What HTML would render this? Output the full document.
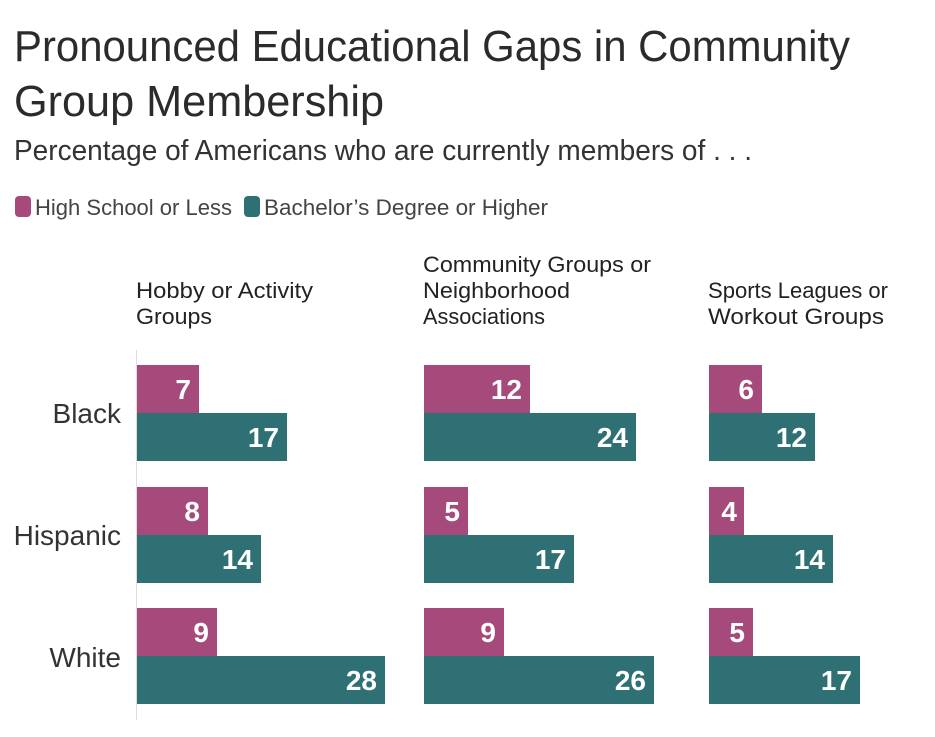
<!DOCTYPE html>
<html><head><meta charset="utf-8"><style>body{margin:0;background:#fff}svg{display:block}</style></head><body>
<svg width="935" height="737" xmlns="http://www.w3.org/2000/svg" font-family="Liberation Sans, sans-serif">
<rect width="935" height="737" fill="#fff"/>
<g fill="#2b2b2b">
<text x="14" y="61" font-size="44" textLength="836" lengthAdjust="spacingAndGlyphs">Pronounced Educational Gaps in Community</text>
<text x="14" y="116" font-size="44" textLength="370" lengthAdjust="spacingAndGlyphs">Group Membership</text>
<text x="14" y="160" font-size="29" fill="#333" textLength="738" lengthAdjust="spacingAndGlyphs">Percentage of Americans who are currently members of . . .</text>
</g>
<rect x="15" y="196" width="16" height="21" rx="4" fill="#a54a7a"/>
<text x="35" y="215" font-size="22" fill="#444" textLength="197" lengthAdjust="spacingAndGlyphs">High School or Less</text>
<rect x="244" y="196" width="16" height="21" rx="4" fill="#2f7074"/>
<text x="264" y="215" font-size="22" fill="#444" textLength="284" lengthAdjust="spacingAndGlyphs">Bachelor’s Degree or Higher</text>
<g font-size="22" fill="#222">
<text x="136" y="298" textLength="177" lengthAdjust="spacingAndGlyphs">Hobby or Activity</text>
<text x="136" y="324" textLength="76" lengthAdjust="spacingAndGlyphs">Groups</text>
<text x="423" y="272" textLength="228" lengthAdjust="spacingAndGlyphs">Community Groups or</text>
<text x="423" y="298" textLength="147" lengthAdjust="spacingAndGlyphs">Neighborhood</text>
<text x="423" y="324" textLength="122" lengthAdjust="spacingAndGlyphs">Associations</text>
<text x="708" y="298" textLength="180" lengthAdjust="spacingAndGlyphs">Sports Leagues or</text>
<text x="708" y="324" textLength="176" lengthAdjust="spacingAndGlyphs">Workout Groups</text>
</g>
<line x1="136.5" y1="350" x2="136.5" y2="720" stroke="#ddd" stroke-width="1"/>
<g font-size="28" fill="#333" text-anchor="end">
<text x="121" y="423">Black</text>
<text x="121" y="545">Hispanic</text>
<text x="121" y="667">White</text>
</g>
<g font-size="28" font-weight="bold" fill="#fff" text-anchor="end">
<!-- panel1 x0=137 -->
<rect x="137" y="365" width="62" height="48" fill="#a54a7a"/><text x="191" y="399">7</text>
<rect x="137" y="413" width="150" height="48" fill="#2f7074"/><text x="279" y="447">17</text>
<rect x="137" y="487" width="71" height="48" fill="#a54a7a"/><text x="200" y="521">8</text>
<rect x="137" y="535" width="124" height="48" fill="#2f7074"/><text x="253" y="569">14</text>
<rect x="137" y="608" width="80" height="48" fill="#a54a7a"/><text x="209" y="642">9</text>
<rect x="137" y="656" width="248" height="48" fill="#2f7074"/><text x="377" y="690">28</text>
<!-- panel2 x0=424 -->
<rect x="424" y="365" width="106" height="48" fill="#a54a7a"/><text x="522" y="399">12</text>
<rect x="424" y="413" width="212" height="48" fill="#2f7074"/><text x="628" y="447">24</text>
<rect x="424" y="487" width="44" height="48" fill="#a54a7a"/><text x="460" y="521">5</text>
<rect x="424" y="535" width="150" height="48" fill="#2f7074"/><text x="566" y="569">17</text>
<rect x="424" y="608" width="80" height="48" fill="#a54a7a"/><text x="496" y="642">9</text>
<rect x="424" y="656" width="230" height="48" fill="#2f7074"/><text x="646" y="690">26</text>
<!-- panel3 x0=709 -->
<rect x="709" y="365" width="53" height="48" fill="#a54a7a"/><text x="754" y="399">6</text>
<rect x="709" y="413" width="106" height="48" fill="#2f7074"/><text x="807" y="447">12</text>
<rect x="709" y="487" width="35" height="48" fill="#a54a7a"/><text x="737" y="521">4</text>
<rect x="709" y="535" width="124" height="48" fill="#2f7074"/><text x="825" y="569">14</text>
<rect x="709" y="608" width="44" height="48" fill="#a54a7a"/><text x="745" y="642">5</text>
<rect x="709" y="656" width="151" height="48" fill="#2f7074"/><text x="852" y="690">17</text>
</g>
</svg>
</body></html>
